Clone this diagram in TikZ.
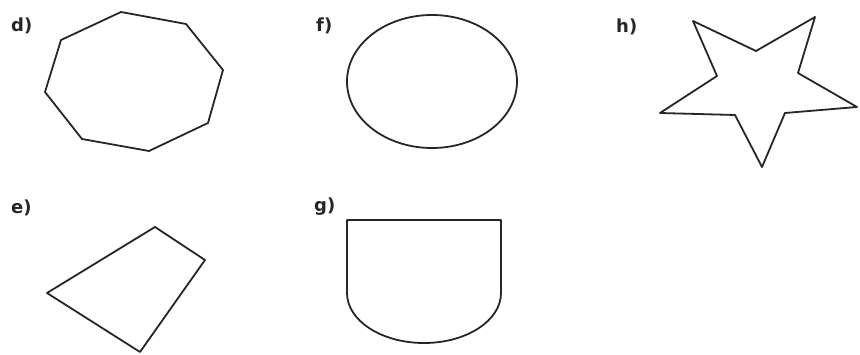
\documentclass[tikz,border=0pt]{standalone}
\usepackage{fontspec}
\newfontfamily\labelfont{DejaVu Sans}
\tikzset{
  shapeline/.style={draw=black!85, line width=1.8pt, line join=round},
  partlabel/.style={anchor=base west, inner sep=0pt, font=\labelfont\bfseries\fontsize{18}{18}\selectfont, text=black!85}
}
\begin{document}
\begin{tikzpicture}[x=1pt, y=-1pt]
\useasboundingbox (0,0) rectangle (860,355);
% labels
\node[partlabel] (ld) at (11,32) {d)};
\node[partlabel] (lf) at (316,32) {f)};
\node[partlabel] (lh) at (616,33) {h)};
\node[partlabel] (le) at (11,214) {e)};
\node[partlabel] (lg) at (314,212) {g)};
% d) octagon
\draw[shapeline] (121,12) -- (186,24) -- (223,70) -- (208,123) -- (149,151) -- (82,139) -- (45,92) -- (61,40) -- cycle;
% f) ellipse
\draw[shapeline] (432,81.5) ellipse [x radius=85, y radius=66.5];
% h) star
\draw[shapeline] (693,21) -- (756,51) -- (815,17) -- (798,73) -- (857,107) -- (785,113) -- (762,167) -- (735,115) -- (660,113) -- (717,76) -- cycle;
% e) quadrilateral
\draw[shapeline] (155,227) -- (205,260) -- (140,352) -- (47,293) -- cycle;
% g) arch shape
\draw[shapeline] (347,293) -- (347,220) -- (501,220) -- (501,293) arc[start angle=0, end angle=180, x radius=77, y radius=50] -- cycle;
\end{tikzpicture}
\end{document}
